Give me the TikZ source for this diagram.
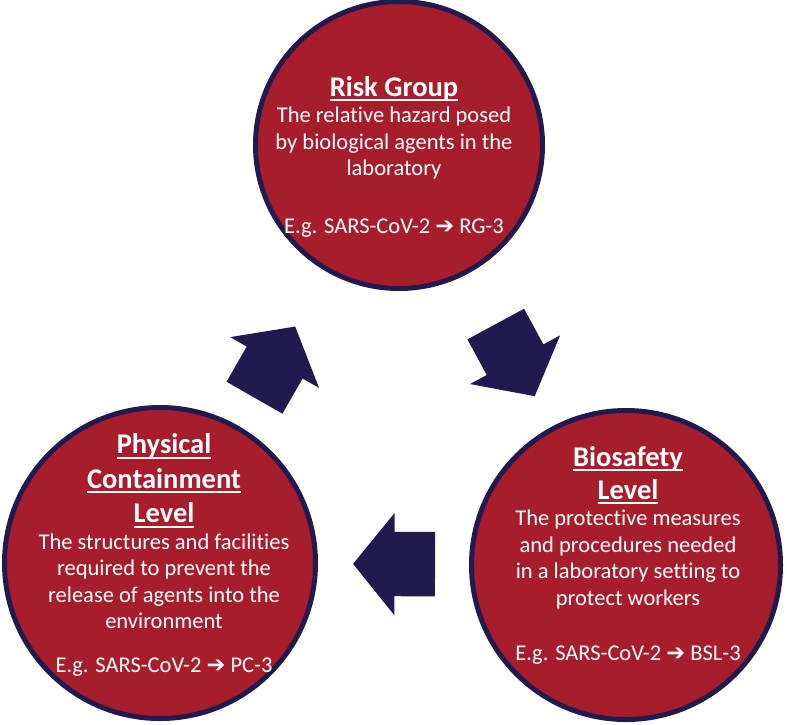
\documentclass[tikz,border=0pt]{standalone}
\usepackage{fontspec}
\setmainfont{Carlito}[Ligatures=NoCommon]
\newfontfamily\arrowfont{DejaVu Sans}
\usetikzlibrary{shapes.arrows}
\definecolor{circlered}{RGB}{167,29,44}
\definecolor{darknavy}{RGB}{33,26,79}
\newcommand{\hdline}[1]{\setbox0\hbox{#1}\rlap{\rule[-5pt]{\wd0}{2pt}}\box0}
\newcommand{\goesto}{{\arrowfont\char"2794}}
\newcommand{\hdfont}{\fontsize{28.5}{34}\selectfont\bfseries}

\begin{document}
\begin{tikzpicture}[x=1pt,y=-1pt,
            level/.style={circle,draw=darknavy,line width=5pt,fill=circlered,
                    inner sep=0pt},
            blurb/.style={text=white,align=center,inner sep=0pt,
                    font=\fontsize{22.5}{26.5}\selectfont},
            flow/.style={single arrow,fill=darknavy,inner xsep=0pt,inner ysep=32pt,
                    minimum height=82pt,single arrow head extend=19pt,
                    single arrow tip angle=102,sloped,allow upside down},
        ]
        \useasboundingbox (0,0) rectangle (787,724);

        % Circles
        \node[level,minimum size=287pt] (rg) at (399,145) {};
        \node[level,minimum size=311pt] (pc) at (160,563) {};
        \node[level,minimum size=309pt] (bsl) at (626,565) {};

        % Texts
        \node[blurb] (rg text) at (394,157) {{\hdfont\hdline{Risk Group}}\\
            The relative hazard posed\\ by biological agents in the\\ laboratory\\[31.5pt]
            E.g. SARS-CoV-2 \goesto{} RG-3};
        \node[blurb] (pc text) at (164,555) {{\hdfont\hdline{Physical}}\\[8pt]
            {\hdfont\hdline{Containment}}\\[8pt] {\hdfont\hdline{Level}}\\
            The structures and facilities\\ required to prevent the\\
            release of agents into the\\ environment\\[17.5pt]
            E.g. SARS-CoV-2 \goesto{} PC-3};
        \node[blurb] (bsl text) at (628,555) {{\hdfont\hdline{Biosafety}}\\[6.5pt]
            {\hdfont\hdline{Level}}\\
            The protective measures\\ and procedures needed\\
            in a laboratory setting to\\ protect workers\\[28.5pt]
            E.g. SARS-CoV-2 \goesto{} BSL-3};

        % Arrows
        \path (pc) -- node[flow,pos=0.34] (pc to rg) {} (rg);
        \path (rg) -- node[flow,pos=0.49] (rg to bsl) {} (bsl);
        \path (bsl) -- node[flow,pos=0.41] (bsl to pc) {} (pc);

    \end{tikzpicture}
\end{document}
